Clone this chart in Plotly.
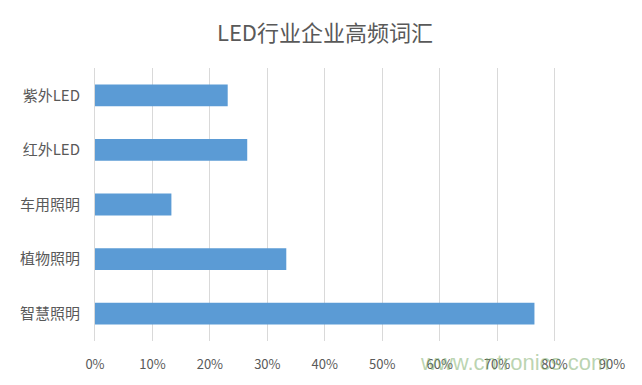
import plotly.graph_objects as go

title = "LED行业企业高频词汇"
categories = ["紫外LED", "红外LED", "车用照明", "植物照明", "智慧照明"]
values = [0.231, 0.265, 0.133, 0.333, 0.765]
x_ticks = [0, 0.1, 0.2, 0.3, 0.4, 0.5, 0.6, 0.7, 0.8, 0.9]
x_tick_labels = ["0%", "10%", "20%", "30%", "40%", "50%", "60%", "70%", "80%", "90%"]

font = "Noto Sans CJK SC, Microsoft YaHei, sans-serif"
grey = "#595959"

fig = go.Figure(go.Bar(
    x=values, y=categories, orientation="h",
    marker=dict(color="#5B9BD5", line=dict(width=0)),
))

# page body has an 8px default margin, so the figure is sized/offset to compensate
fig.update_layout(
    width=634, height=377,
    margin=dict(l=82, r=30, t=60, b=40),
    paper_bgcolor="white", plot_bgcolor="white",
    title=dict(text=title, x=0.5, xanchor="center", y=0.934, yanchor="middle",
               font=dict(family=font, size=22, color=grey)),
    bargap=0.6,
    showlegend=False,
    font=dict(family=font, color=grey),
)
fig.update_xaxes(
    range=[0, 0.9], tickvals=x_ticks, ticktext=x_tick_labels,
    showgrid=True, gridcolor="#D9D9D9", gridwidth=1,
    zeroline=False, showline=False,
    tickfont=dict(family=font, size=13, color=grey),
    ticklabelstandoff=14,
)
fig.update_yaxes(
    autorange="reversed",
    showgrid=False, showline=True, linecolor="#D9D9D9", linewidth=1,
    tickfont=dict(family=font, size=15, color=grey),
    ticklabelstandoff=11,
)
fig.add_annotation(
    text="www.cntronics.com", xref="paper", yref="paper",
    x=0.812, y=-0.079, xanchor="center", yanchor="middle", showarrow=False,
    font=dict(family="Liberation Sans, Arial, sans-serif", size=22, color="rgba(120,170,100,0.5)"),
)

fig.write_html("out.html")
